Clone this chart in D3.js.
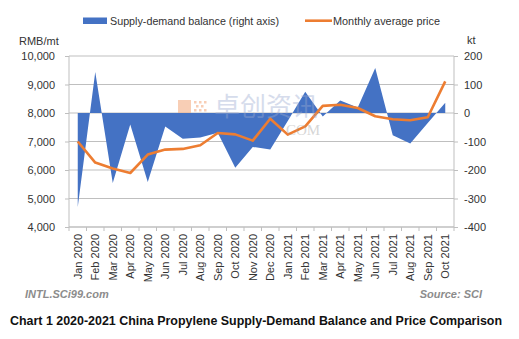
<!DOCTYPE html>
<html>
<head>
<meta charset="utf-8">
<script src="https://d3js.org/d3.v7.min.js"></script>
<style>
  body { margin: 0; background: #fff; }
  svg { font-family: "Liberation Sans", Arial, sans-serif; }
  .tick text { fill: #333; font-size: 11px; }
</style>
</head>
<body>
<div id="chart"></div>
<script>
// months on the category axis
var months = ["Jan 2020","Feb 2020","Mar 2020","Apr 2020","May 2020","Jun 2020","Jul 2020","Aug 2020",
  "Sep 2020","Oct 2020","Nov 2020","Dec 2020","Jan 2021","Feb 2021","Mar 2021","Apr 2021",
  "May 2021","Jun 2021","Jul 2021","Aug 2021","Sep 2021","Oct 2021"];
// supply-demand balance, kt (right axis)
var balance = [-330, 144, -246, -40, -242, -47, -90, -86, -69, -192, -119, -128,
  -28, 75, -12, 44, 19, 158, -78, -107, -35, 36];
// monthly average price, RMB/mt (left axis)
var price = [7000, 6260, 6050, 5895, 6540, 6715, 6740, 6870, 7300, 7250, 7030, 7800,
  7240, 7530, 8250, 8290, 8175, 7885, 7780, 7745, 7850, 9110];
var leftTicks = [4000, 5000, 6000, 7000, 8000, 9000, 10000];
var rightTicks = [-400, -300, -200, -100, 0, 100, 200];

var W = 519, H = 339;
var plot = { left: 69, right: 454, top: 56, bottom: 227 };

var svg = d3.select("#chart").append("svg").attr("width", W).attr("height", H);

var x = d3.scaleBand().domain(months).range([plot.left, plot.right]);
var xc = function(d) { return x(d) + x.bandwidth() / 2; };
var yL = d3.scaleLinear().domain([4000, 10000]).range([plot.bottom, plot.top]);
var yR = d3.scaleLinear().domain([-400, 200]).range([plot.bottom, plot.top]);

// gridlines
svg.append("g").selectAll("line").data(leftTicks).enter().append("line")
  .attr("x1", plot.left).attr("x2", plot.right)
  .attr("y1", function(d) { return yL(d); }).attr("y2", function(d) { return yL(d); })
  .attr("stroke", "#bfbfbf").attr("stroke-width", 1);

// watermark under the data
var wm = svg.append("g").attr("opacity", 0.55);
wm.append("rect").attr("x", 178).attr("y", 100).attr("width", 13).attr("height", 13).attr("fill", "#f4a77a");
[[194,101],[199,101],[204,101],[196,105],[201,105],[194,109],[199,109],[204,109]].forEach(function(p) {
  wm.append("rect").attr("x", p[0]).attr("y", p[1]).attr("width", 2.5).attr("height", 2.5).attr("fill", "#f4a77a");
});

// supply-demand area
var area = d3.area()
  .x(function(d, i) { return xc(months[i]); })
  .y0(yR(0))
  .y1(function(d) { return yR(d); });
svg.append("path").datum(balance).attr("d", area).attr("fill", "#4472c4");

// price line
var line = d3.line()
  .x(function(d, i) { return xc(months[i]); })
  .y(function(d) { return yL(d); });
svg.append("path").datum(price).attr("d", line)
  .attr("fill", "none").attr("stroke", "#ed7d31").attr("stroke-width", 2.6)
  .attr("stroke-linejoin", "round");

// watermark text on top
var wt = svg.append("g").attr("opacity", 0.4).attr("fill", "#9aaad0");
wt.append("text").attr("x", 214).attr("y", 116).attr("font-size", "26px")
  .attr("font-family", "Noto Sans CJK SC").text("卓创资讯");
wt.append("text").attr("x", 286).attr("y", 135).attr("font-size", "15px")
  .attr("font-family", "Liberation Serif").attr("fill", "#9a9a9a").text("COM");

// plot frame
svg.append("line").attr("x1", plot.left).attr("x2", plot.left).attr("y1", plot.top).attr("y2", plot.bottom)
  .attr("stroke", "#bfbfbf");
svg.append("line").attr("x1", plot.right).attr("x2", plot.right).attr("y1", plot.top).attr("y2", plot.bottom)
  .attr("stroke", "#bfbfbf");
svg.append("line").attr("x1", plot.left).attr("x2", plot.right).attr("y1", plot.bottom).attr("y2", plot.bottom)
  .attr("stroke", "#bfbfbf");

// left axis
var gl = svg.append("g").attr("transform", "translate(" + plot.left + ",0)")
  .call(d3.axisLeft(yL).tickValues(leftTicks).tickSize(4).tickPadding(10).tickFormat(d3.format(",")));
gl.select(".domain").remove();
gl.selectAll(".tick line").attr("stroke", "#bfbfbf");

// right axis
var gr = svg.append("g").attr("transform", "translate(" + plot.right + ",0)")
  .call(d3.axisRight(yR).tickValues(rightTicks).tickSize(4).tickPadding(6));
gr.select(".domain").remove();
gr.selectAll(".tick line").attr("stroke", "#bfbfbf");
gr.selectAll(".tick text").text(function(d) { return d; });

// category axis: tick marks at boundaries, rotated labels
var bounds = months.map(function(m) { return x(m); }).concat([plot.right]);
svg.append("g").selectAll("line").data(bounds).enter().append("line")
  .attr("x1", function(d) { return d; }).attr("x2", function(d) { return d; })
  .attr("y1", plot.bottom).attr("y2", plot.bottom + 4).attr("stroke", "#bfbfbf");
var gx = svg.append("g").attr("transform", "translate(0," + plot.bottom + ")")
  .call(d3.axisBottom(x).tickSize(0).tickPadding(0));
gx.select(".domain").remove();
gx.selectAll(".tick text")
  .attr("transform", "rotate(-90)")
  .attr("text-anchor", "end")
  .attr("x", -7).attr("y", 0).attr("dy", "0.35em");

// axis unit labels
svg.append("text").attr("x", 19).attr("y", 45).attr("font-size", "11px").attr("fill", "#333").text("RMB/mt");
svg.append("text").attr("x", 467).attr("y", 44).attr("font-size", "11px").attr("fill", "#333").text("kt");

// legend
svg.append("rect").attr("x", 83).attr("y", 17.5).attr("width", 24).attr("height", 6.5).attr("fill", "#4472c4");
svg.append("text").attr("x", 110).attr("y", 24.5).attr("font-size", "11px").attr("fill", "#333")
  .attr("textLength", 169).attr("lengthAdjust", "spacingAndGlyphs").text("Supply-demand balance (right axis)");
svg.append("line").attr("x1", 305).attr("x2", 332).attr("y1", 20.7).attr("y2", 20.7)
  .attr("stroke", "#ed7d31").attr("stroke-width", 2.6);
svg.append("text").attr("x", 333).attr("y", 24.5).attr("font-size", "11px").attr("fill", "#333")
  .attr("textLength", 107).attr("lengthAdjust", "spacingAndGlyphs").text("Monthly average price");

// sources
svg.append("text").attr("x", 25).attr("y", 298).attr("font-size", "11px").attr("font-weight", "bold")
  .attr("font-style", "italic").attr("fill", "#8c8c8c").text("INTL.SCi99.com");
svg.append("text").attr("x", 482).attr("y", 298).attr("text-anchor", "end").attr("font-size", "11px")
  .attr("font-weight", "bold").attr("font-style", "italic").attr("fill", "#8c8c8c").text("Source: SCI");

// title
svg.append("text").attr("x", 10).attr("y", 325).attr("font-size", "12.5px").attr("font-weight", "bold")
  .attr("fill", "#111").attr("textLength", 492).attr("lengthAdjust", "spacingAndGlyphs")
  .text("Chart 1 2020-2021 China Propylene Supply-Demand Balance and Price Comparison");
</script>
</body>
</html>
